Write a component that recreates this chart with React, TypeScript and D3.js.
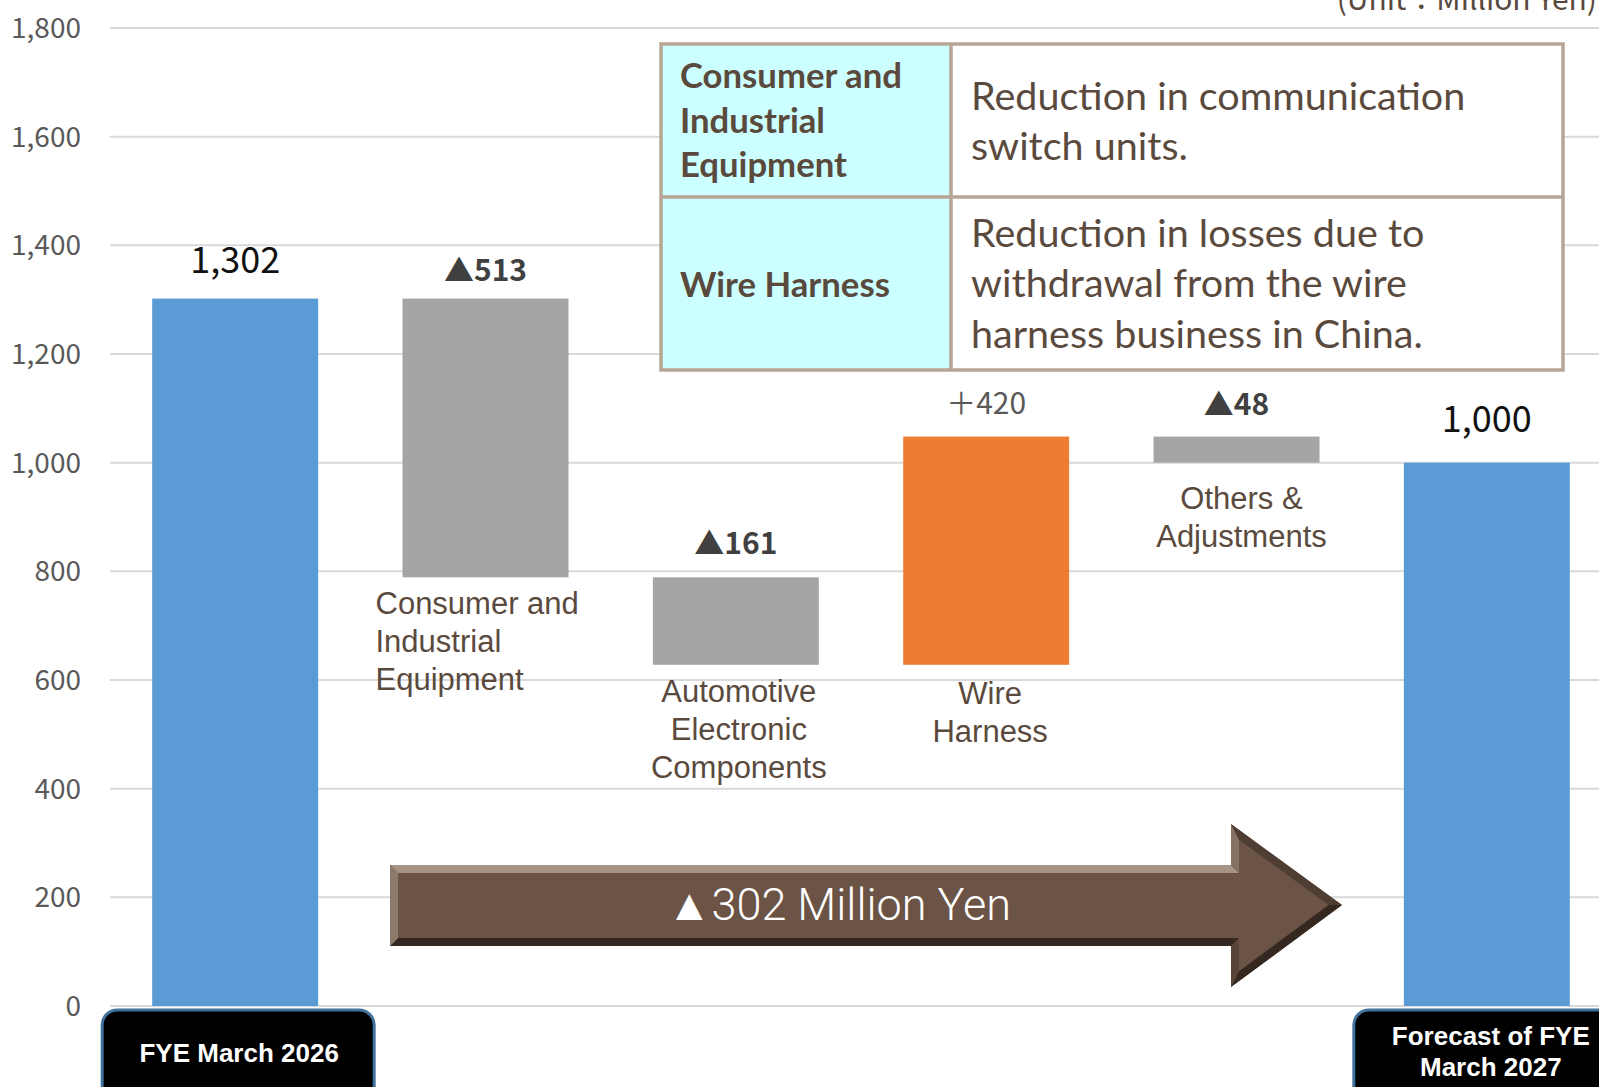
import React from "react";
import * as d3 from "d3";

// ---------- data ----------
const categories = [
  "FYE March 2026",
  "Consumer and Industrial Equipment",
  "Automotive Electronic Components",
  "Wire Harness",
  "Others & Adjustments",
  "Forecast of FYE March 2027",
];
const stepKinds = ["total", "delta", "delta", "delta", "delta", "total"];
const stepValues = [1302, -513, -161, 420, -48, 1000];
const categoryLabelLines = [
  [],
  ["Consumer and", "Industrial", "Equipment"],
  ["Automotive", "Electronic", "Components"],
  ["Wire", "Harness"],
  ["Others &", "Adjustments"],
  [],
];
const periodLabelLines = [["FYE March 2026"], [], [], [], [], ["Forecast of FYE", "March 2027"]];
const yTicks = [0, 200, 400, 600, 800, 1000, 1200, 1400, 1600, 1800];
const tableSegments = [["Consumer and", "Industrial", "Equipment"], ["Wire Harness"]];
const tableReasons = [
  ["Reduction in communication", "switch units."],
  ["Reduction in losses due to", "withdrawal from the wire", "harness business in China."],
];
const unitText = "(Unit：Million Yen)";

// ---------- layout ----------
const W = 1599;
const H = 1087;
const BLUE = "#5b9bd5";
const GRAY = "#a5a5a5";
const ORANGE = "#ed7d31";
const BROWN_TEXT = "#5a4a3e";
const JP = "'Noto Sans CJK JP', 'Noto Sans', sans-serif";
const ARIAL = "'Liberation Sans', Arial, sans-serif";
const TABLE_FONT = "Lato, 'Open Sans', sans-serif";

const valueLabelGap = [26, 18, 23, 23, 22, 31];
const catLayout = [
  null,
  { anchor: "start", dx: -110, dy: 37 },
  { anchor: "middle", dx: 3, dy: 37 },
  { anchor: "middle", dx: 4, dy: 39 },
  { anchor: "middle", dx: 5, dy: 46 },
  null,
];

// explicit bevel shading per arrow edge (+ = lighter, - = darker)
const edgeShade = [0.75, 0.35, -0.45, -0.85, -0.3, -0.85, 0.45];

function bevelPolys(pts: number[][], d: number) {
  const n = pts.length;
  const normals = pts.map((a, i) => {
    const b = pts[(i + 1) % n];
    const dx = b[0] - a[0];
    const dy = b[1] - a[1];
    const len = Math.hypot(dx, dy);
    return [-dy / len, dx / len]; // inward
  });
  const inner = pts.map((p, i) => {
    const ip = (i - 1 + n) % n;
    const a1 = [pts[ip][0] + normals[ip][0] * d, pts[ip][1] + normals[ip][1] * d];
    const b1 = [p[0] + normals[ip][0] * d, p[1] + normals[ip][1] * d];
    const a2 = [p[0] + normals[i][0] * d, p[1] + normals[i][1] * d];
    const b2 = [pts[(i + 1) % n][0] + normals[i][0] * d, pts[(i + 1) % n][1] + normals[i][1] * d];
    const d1 = [b1[0] - a1[0], b1[1] - a1[1]];
    const d2 = [b2[0] - a2[0], b2[1] - a2[1]];
    const den = d1[0] * d2[1] - d1[1] * d2[0];
    if (Math.abs(den) < 1e-9) return b1;
    const t = ((a2[0] - a1[0]) * d2[1] - (a2[1] - a1[1]) * d2[0]) / den;
    return [a1[0] + d1[0] * t, a1[1] + d1[1] * t];
  });
  const base = "#6b5446";
  const light = d3.interpolateRgb(base, "#b9a899");
  const dark = d3.interpolateRgb(base, "#2a2019");
  return pts.map((a, i) => {
    const j = (i + 1) % n;
    const b = edgeShade[i];
    const color = b >= 0 ? light(b) : dark(-b);
    return { pts: [a, pts[j], inner[j], inner[i]], color };
  });
}

export default function App() {
  const y = d3.scaleLinear().domain([0, 1800]).range([1006, 28]);
  const x = d3
    .scaleBand<string>()
    .domain(categories)
    .range([110, 1612])
    .paddingInner(0.337)
    .paddingOuter(0.1685);
  const bw = x.bandwidth();
  const fmt = d3.format(",");

  let running = 0;
  const bars = categories.map((c, i) => {
    const v = stepValues[i];
    let lo: number, hi: number;
    if (stepKinds[i] === "total") {
      lo = 0;
      hi = v;
      running = v;
    } else {
      const s = running;
      const e = running + v;
      lo = Math.min(s, e);
      hi = Math.max(s, e);
      running = e;
    }
    const color = stepKinds[i] === "total" ? BLUE : v < 0 ? GRAY : ORANGE;
    return { c, i, v, lo, hi, color, cx: (x(c) as number) + bw / 2 };
  });

  const totalChange = stepValues[stepValues.length - 1] - stepValues[0];
  const arrowLabel = (totalChange < 0 ? "▲" : "＋") + fmt(Math.abs(totalChange)) + " Million Yen";

  // arrow annotation geometry
  const arrowPts = [
    [390, 865],
    [1231, 865],
    [1231, 824],
    [1342, 905],
    [1231, 987],
    [1231, 946],
    [390, 946],
  ];
  const bevels = bevelPolys(arrowPts, 8);

  // table geometry
  const tL = 661, tR = 1563, tT = 44, tB = 370, tC = 951, tM = 197;
  const segBaselines = [[88, 132.5, 177], [297]];
  const reasonBaselines = [[110, 160], [247, 297, 348]];

  return (
    <svg
      width={W}
      height={H}
      viewBox={`0 0 ${W} ${H}`}
      style={{ position: "absolute", left: 0, top: 0, display: "block", background: "#fff" }}
    >
      <rect x={0} y={0} width={W} height={H} fill="#ffffff" />

      {/* gridlines */}
      {yTicks.map((t) => (
        <line key={"g" + t} x1={110} x2={1612} y1={y(t)} y2={y(t)} stroke="#d9d9d9" strokeWidth={2} />
      ))}
      {/* tick labels */}
      {yTicks.map((t) => (
        <text
          key={"t" + t}
          x={81}
          y={y(t) + 10}
          textAnchor="end"
          fontFamily={JP}
          fontSize={28}
          fill="#595959"
        >
          {fmt(t)}
        </text>
      ))}

      {/* unit */}
      <text x={1597} y={10} textAnchor="end" fontFamily={JP} fontSize={30} fill={BROWN_TEXT}>
        {unitText}
      </text>

      {/* bars */}
      {bars.map((b) => (
        <rect key={"b" + b.i} x={x(b.c)} y={y(b.hi)} width={bw} height={y(b.lo) - y(b.hi)} fill={b.color} />
      ))}

      {/* value labels */}
      {bars.map((b) => {
        const isTotal = stepKinds[b.i] === "total";
        const txt = isTotal ? fmt(b.v) : b.v < 0 ? "▲" + fmt(-b.v) : "＋" + fmt(b.v);
        const size = isTotal ? 36 : 30;
        const weight = !isTotal && b.v < 0 ? 700 : 400;
        const fill = isTotal ? "#111111" : b.v < 0 ? "#404040" : "#595959";
        return (
          <text
            key={"v" + b.i}
            x={b.cx}
            y={y(b.hi) - valueLabelGap[b.i]}
            textAnchor="middle"
            fontFamily={JP}
            fontSize={size}
            fontWeight={weight}
            fill={fill}
          >
            {txt}
          </text>
        );
      })}

      {/* category labels */}
      {bars.map((b) => {
        const lay = catLayout[b.i];
        const lines = categoryLabelLines[b.i];
        if (!lay || !lines.length) return null;
        const x0 = b.cx + lay.dx;
        const y0 = y(b.lo) + lay.dy;
        return (
          <text
            key={"c" + b.i}
            textAnchor={lay.anchor}
            fontFamily={ARIAL}
            fontSize={31}
            fill={BROWN_TEXT}
          >
            {lines.map((ln, k) => (
              <tspan key={k} x={x0} y={y0 + k * 38}>
                {ln}
              </tspan>
            ))}
          </text>
        );
      })}

      {/* arrow */}
      <polygon points={arrowPts.map((p) => p.join(",")).join(" ")} fill="#6b5446" />
      {bevels.map((bv, i) => (
        <polygon key={"bv" + i} points={bv.pts.map((p) => p.join(",")).join(" ")} fill={bv.color} />
      ))}
      <text
        x={839}
        y={920}
        textAnchor="middle"
        fontFamily="Roboto, 'Liberation Sans', sans-serif"
        fontWeight={300}
        fontSize={44}
        fill="#ffffff"
        textLength={344}
        lengthAdjust="spacingAndGlyphs"
      >
        {arrowLabel}
      </text>

      {/* table */}
      <rect x={tL} y={tT} width={tC - tL} height={tB - tT} fill="#ccffff" />
      <rect x={tC} y={tT} width={tR - tC} height={tB - tT} fill="#ffffff" />
      <rect x={tL} y={tT} width={tR - tL} height={tB - tT} fill="none" stroke="#b9a596" strokeWidth={3.5} />
      <line x1={tC} x2={tC} y1={tT} y2={tB} stroke="#b9a596" strokeWidth={3.5} />
      <line x1={tL} x2={tR} y1={tM} y2={tM} stroke="#b9a596" strokeWidth={3.5} />
      {tableSegments.map((lines, r) =>
        lines.map((ln, k) => (
          <text
            key={"s" + r + k}
            x={680}
            y={segBaselines[r][k]}
            fontFamily={TABLE_FONT}
            fontWeight={700}
            fontSize={34.7}
            fill={BROWN_TEXT}
          >
            {ln}
          </text>
        ))
      )}
      {tableReasons.map((lines, r) =>
        lines.map((ln, k) => (
          <text
            key={"r" + r + k}
            x={971}
            y={reasonBaselines[r][k]}
            fontFamily={TABLE_FONT}
            fontSize={39.5}
            fill={BROWN_TEXT}
          >
            {ln}
          </text>
        ))
      )}

      {/* period labels */}
      {bars.map((b) => {
        const lines = periodLabelLines[b.i];
        if (!lines.length) return null;
        const bx = b.cx - 133;
        const baselines = lines.length === 1 ? [1062] : [1045, 1076];
        return (
          <g key={"p" + b.i}>
            <rect x={bx} y={1010} width={272} height={100} rx={15} fill="#000000" stroke="#41719c" strokeWidth={3} />
            {lines.map((ln, k) => (
              <text
                key={k}
                x={b.cx + 4}
                y={baselines[k]}
                textAnchor="middle"
                fontFamily={ARIAL}
                fontWeight={700}
                fontSize={26}
                fill="#ffffff"
              >
                {ln}
              </text>
            ))}
          </g>
        );
      })}
    </svg>
  );
}
